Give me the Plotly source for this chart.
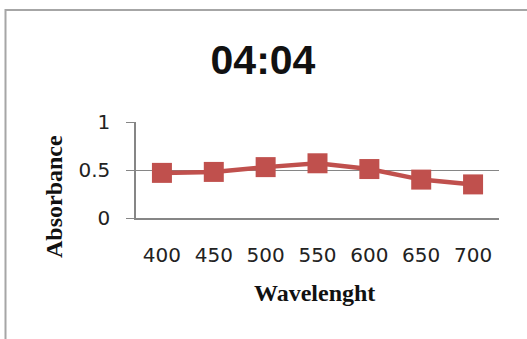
import plotly.graph_objects as go

# Absorbance readings across the visible spectrum
wavelengths = ["400", "450", "500", "550", "600", "650", "700"]
absorbance = [0.47, 0.48, 0.53, 0.57, 0.51, 0.40, 0.35]
y_ticks = [0, 0.5, 1]
y_tick_text = ["0", "0.5", "1"]

W, H = 527, 339
L, R, T, B = 136, 28, 122, 121
pw, ph = W - L - R, H - T - B


def px_to_paper_x(px):
    return (px - L) / pw


def px_to_paper_y(py):
    return (H - B - py) / ph


fig = go.Figure()
fig.add_trace(go.Scatter(
    x=list(range(len(wavelengths))),
    y=absorbance,
    mode="lines+markers",
    line=dict(color="#C0504D", width=4.5),
    marker=dict(symbol="square", size=20, color="#C0504D"),
    hoverinfo="skip",
    showlegend=False,
))

tick_font = dict(family="DejaVu Sans", size=20, color="#222222")
axis_title_font = dict(family="Liberation Serif", size=24, color="#111111")

fig.update_layout(
    width=W, height=H,
    margin=dict(l=L, r=R, t=T, b=B, pad=0),
    paper_bgcolor="white",
    plot_bgcolor="white",
    title=dict(
        text="<b>04:04</b>",
        x=263 / W, xref="container", xanchor="center",
        y=1 - 60 / H, yref="container", yanchor="middle",
        font=dict(family="Liberation Sans", size=41, color="#111111"),
    ),
    xaxis=dict(
        range=[-0.5, len(wavelengths) - 0.5],
        tickmode="array",
        tickvals=list(range(len(wavelengths))),
        ticktext=wavelengths,
        tickfont=tick_font,
        ticks="",
        ticklabelstandoff=18,
        showgrid=False,
        zeroline=False,
        showline=True,
        linecolor="#868686",
        linewidth=2,
        fixedrange=True,
    ),
    yaxis=dict(
        range=[0, 1],
        tickmode="array",
        tickvals=y_ticks,
        ticktext=y_tick_text,
        tickfont=tick_font,
        ticks="outside",
        ticklen=8,
        tickcolor="#868686",
        ticklabelstandoff=12,
        showgrid=True,
        gridcolor="#868686",
        gridwidth=1,
        zeroline=False,
        showline=True,
        linecolor="#868686",
        linewidth=1.5,
        fixedrange=True,
    ),
    shapes=[
        # chart frame, open towards the right and bottom edges
        dict(type="rect", xref="paper", yref="paper",
             x0=px_to_paper_x(5.5), x1=px_to_paper_x(540),
             y0=px_to_paper_y(350), y1=px_to_paper_y(10),
             line=dict(color="#A6A6A6", width=2), layer="below"),
    ],
    annotations=[
        dict(text="<b>Wavelenght</b>", xref="paper", yref="paper",
             x=px_to_paper_x(314), y=px_to_paper_y(293),
             xanchor="center", yanchor="middle", showarrow=False,
             font=axis_title_font),
        dict(text="<b>Absorbance</b>", xref="paper", yref="paper",
             x=px_to_paper_x(54), y=px_to_paper_y(197),
             xanchor="center", yanchor="middle", showarrow=False,
             textangle=-90, font=axis_title_font),
    ],
)

fig.write_html("out.html")
